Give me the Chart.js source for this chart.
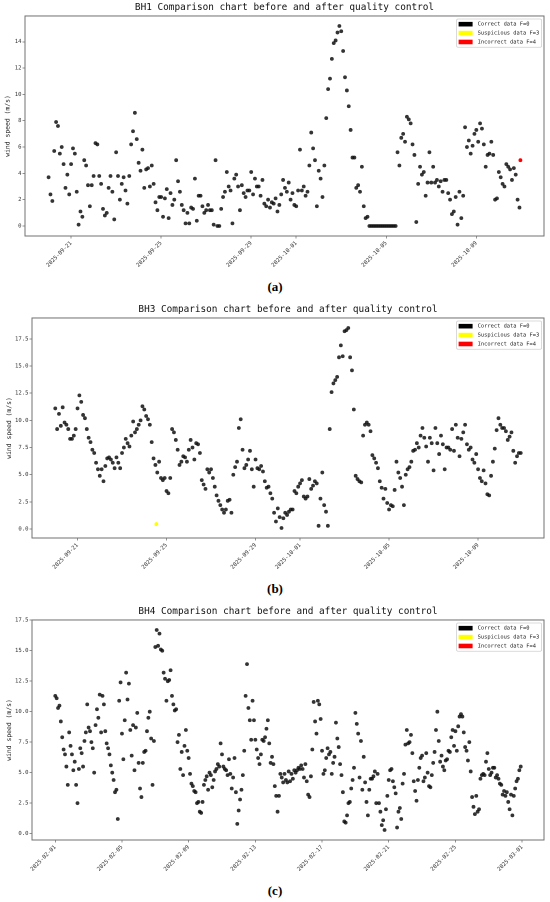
<!DOCTYPE html>
<html><head><meta charset="utf-8">
<script src="https://cdn.jsdelivr.net/npm/chart.js@4.4.1/dist/chart.umd.min.js"></script>
<style>
html,body{margin:0;padding:0;background:#fff;}
body{width:550px;height:902px;position:relative;overflow:hidden;}
canvas{position:absolute;left:0;}
.cap{position:absolute;left:0;width:550px;text-align:center;font-family:"Liberation Serif","DejaVu Serif",serif;font-weight:bold;font-size:13px;line-height:14px;color:#000;}
</style></head><body>
<canvas id="cA" width="550" height="275" style="top:0px"></canvas>
<div class="cap" style="top:280px">(a)</div>
<canvas id="cB" width="550" height="275" style="top:302px"></canvas>
<div class="cap" style="top:582px">(b)</div>
<canvas id="cC" width="550" height="275" style="top:604px"></canvas>
<div class="cap" style="top:884px">(c)</div>
<script>
// ---------------- data ----------------
const seriesLabels = ['Correct data F=0', 'Suspicious data F=3', 'Incorrect data F=4'];
const yLabel = 'wind speed (m/s)';

// BH1: 2025-09-20 00:00 onward, one value every 2 hours
const bh1Title = 'BH1 Comparison chart before and after quality control';
const bh1Start = '2025-09-20';
const bh1StepHours = 2;
const bh1Speed = [
 3.7,2.4,1.9,5.7,7.9,7.6,5.5,6.0,4.7,2.9,3.9,2.4,
 4.7,5.9,5.5,2.6,0.1,1.1,0.7,5.0,4.6,3.1,1.5,3.1,
 3.8,6.3,6.2,3.8,3.2,1.3,0.8,1.0,2.9,3.8,2.6,0.5,
 5.6,3.8,2.0,3.2,3.7,2.7,1.7,3.8,6.2,7.2,8.6,6.6,
 4.8,4.2,5.8,2.9,4.3,4.4,3.0,4.6,3.2,1.8,1.2,2.2,
 2.2,0.7,2.1,2.8,0.6,2.5,1.6,2.0,5.0,3.4,2.6,1.6,
 1.2,0.2,1.0,0.2,1.4,1.3,3.6,0.4,2.3,2.3,1.5,1.0,
 1.2,1.6,1.2,1.2,0.1,5.0,0.0,0.0,1.3,2.2,2.6,4.1,
 3.0,2.7,0.2,3.6,3.9,3.0,1.2,3.1,2.5,2.2,2.7,2.7,
 4.1,2.4,3.6,3.0,3.0,2.3,3.5,1.7,1.5,2.0,1.4,1.8,
 1.7,2.1,1.1,1.6,2.4,3.5,2.9,2.6,3.3,2.0,2.5,1.6,
 1.5,2.7,5.8,2.7,3.0,2.3,2.6,4.6,7.1,5.9,5.0,1.5,
 4.2,3.6,2.2,4.6,8.2,10.4,11.2,12.7,13.9,14.1,14.7,15.2,
 14.8,13.3,11.3,10.3,9.1,7.3,5.2,5.2,2.9,3.1,2.6,4.5,
 1.5,0.6,0.7,0,0,0,0,0,0,0,0,0,
 0,0,0,0,0,0,5.6,4.6,6.7,7.0,6.4,8.3,
 8.1,7.8,6.2,5.4,0.3,3.2,4.5,3.9,4.1,2.3,3.3,5.6,
 3.3,4.5,3.3,3.5,3.0,3.4,2.6,3.5,3.5,2.5,2.0,0.9,
 1.1,2.2,0.1,2.6,0.6,2.3,7.5,6.0,6.5,5.5,6.1,7.0,
 7.3,6.4,7.8,7.4,6.2,4.5,5.4,5.5,6.4,5.4,2.0,2.1,
 4.1,3.7,3.2,3.0,4.7,4.5,4.3,3.5,4.4,3.9,2.0,1.4
];
const bh1SuspectHours = [];
const bh1SuspectValues = [];
const bh1IncorrectHours = [503];
const bh1IncorrectValues = [5.0];
const bh1XTicks = ['2025-09-21','2025-09-25','2025-09-29','2025-10-01','2025-10-05','2025-10-09'];
const bh1YTicks = [0,2,4,6,8,10,12,14];

// BH3: 2025-09-20 00:00 onward, one value every 2 hours
const bh3Title = 'BH3 Comparison chart before and after quality control';
const bh3Start = '2025-09-20';
const bh3StepHours = 2;
const bh3Speed = [
 11.1,9.2,10.6,9.5,11.2,9.8,9.6,9.2,8.3,8.3,8.6,9.2,
 11.1,12.3,11.7,10.5,10.2,9.2,8.4,8.0,7.3,7.0,6.1,5.5,
 4.9,5.5,4.4,5.8,6.5,6.6,6.4,6.1,5.6,6.6,6.1,5.6,
 7.0,7.5,8.3,7.9,7.6,8.6,9.9,8.9,9.2,9.6,10.0,11.3,
 11.0,10.4,10.1,9.6,8.0,6.5,5.9,5.2,6.2,4.7,4.5,4.7,
 3.5,3.3,4.7,9.2,8.9,8.2,7.3,5.9,6.2,6.7,6.6,6.2,
 7.3,8.2,7.5,6.4,7.9,7.8,7.0,4.5,4.1,3.7,5.5,5.2,
 5.5,4.7,3.9,3.1,2.6,2.2,1.8,1.5,1.8,2.6,2.7,1.5,
 5.0,5.7,6.2,9.3,10.1,7.3,5.6,5.9,6.4,7.2,5.5,3.9,
 6.4,5.6,5.5,5.8,5.3,4.4,3.8,3.9,3.3,2.8,1.5,0.7,
 1.9,1.1,0.1,1.0,1.5,1.3,1.6,1.8,1.8,3.5,3.3,3.9,
 4.2,4.5,3.0,2.8,3.0,4.6,3.7,4.0,4.4,4.2,0.3,2.8,
 5.2,2.2,1.6,0.3,9.2,12.6,13.4,13.7,14.0,15.8,16.9,15.9,
 18.2,18.3,18.5,15.8,14.6,11.0,4.9,4.6,4.4,4.3,8.6,9.6,
 9.8,9.6,9.0,6.8,6.5,6.1,5.6,4.4,3.8,2.8,3.7,2.4,
 1.8,2.2,2.1,3.6,6.2,5.2,4.7,3.9,2.2,5.0,5.5,5.7,
 6.2,7.2,7.3,7.9,7.5,8.6,9.3,8.4,7.6,6.2,8.4,7.9,
 5.4,9.3,7.9,6.9,8.6,7.8,5.5,7.5,7.5,7.3,9.2,7.2,
 9.6,8.4,6.7,8.3,8.9,9.6,7.8,7.3,7.5,6.4,6.1,6.9,
 5.5,4.7,4.4,5.4,4.2,3.2,3.1,4.9,6.2,7.4,9.1,10.2,
 9.6,9.3,9.3,9.0,8.2,8.5,8.9,7.2,6.1,6.7,7.0,7.0
];
const bh3SuspectHours = [109];
const bh3SuspectValues = [0.46];
const bh3IncorrectHours = [];
const bh3IncorrectValues = [];
const bh3XTicks = ['2025-09-21','2025-09-25','2025-09-29','2025-10-01','2025-10-05','2025-10-09'];
const bh3YTicks = [0,2.5,5,7.5,10,12.5,15,17.5];

// BH4: 2025-02-01 00:00 onward, one value every 2 hours
const bh4Title = 'BH4 Comparison chart before and after quality control';
const bh4Start = '2025-02-01';
const bh4StepHours = 2;
const bh4Speed = [
 11.3,11.1,10.3,10.5,9.2,7.9,6.9,6.5,5.5,4.0,8.3,7.2,
 6.5,5.2,5.9,4.0,2.5,5.3,7.0,6.6,5.5,7.6,8.3,10.6,
 8.7,8.4,7.5,7.0,5.0,8.9,10.2,9.5,11.4,8.3,11.3,10.6,
 8.4,7.4,7.0,6.5,5.6,5.0,4.4,3.4,3.6,1.2,10.9,12.4,
 8.2,6.1,9.3,13.2,11.0,12.3,8.5,6.4,8.9,5.2,8.7,9.9,
 5.8,3.7,3.0,5.8,6.7,6.8,8.4,9.5,10.0,7.8,4.0,7.6,
 15.3,16.7,15.4,16.4,15.1,15.0,13.2,12.7,10.9,12.5,12.6,13.4,
 11.3,10.6,10.1,10.2,7.5,8.1,5.3,6.7,4.8,7.2,8.5,6.8,
 6.2,4.9,4.1,3.9,3.5,3.4,2.5,2.6,1.8,1.7,2.6,4.0,
 4.4,4.7,3.6,5.0,4.8,3.8,4.4,5.1,5.3,5.7,5.5,7.4,
 6.5,5.5,5.3,5.2,4.8,6.1,4.9,3.7,4.6,6.2,3.4,0.8,
 1.9,2.8,3.6,4.8,6.8,11.3,13.9,10.3,9.3,7.7,10.9,9.3,
 7.7,6.9,6.2,5.7,6.5,7.7,7.6,7.9,8.6,9.3,7.4,5.8,
 6.3,5.7,3.9,3.1,1.8,3.1,4.9,4.6,4.2,4.9,4.4,4.2,
 5.1,4.3,4.9,4.5,5.2,5.0,5.2,5.4,5.3,5.6,5.3,4.6,
 5.7,4.3,3.2,3.0,4.7,6.9,10.8,9.2,8.2,10.9,10.6,9.4,
 6.8,4.9,5.2,6.2,7.0,6.5,6.7,4.9,5.8,6.3,9.1,7.8,
 7.1,5.7,4.8,3.4,1.0,0.9,1.5,2.5,2.6,3.7,4.4,5.4,
 9.9,9.0,8.2,4.6,7.6,3.6,6.3,4.2,2.6,1.5,3.6,4.5,
 4.5,4.7,5.1,2.5,4.9,2.5,1.8,0.7,1.1,0.3,2.0,3.1,
 4.4,5.2,5.3,4.3,3.8,3.3,0.5,1.8,2.1,1.2,4.1,4.9,
 7.3,8.5,7.4,7.5,8.1,6.6,4.3,3.5,2.7,4.4,5.4,6.2,
 6.4,4.3,4.6,6.6,5.0,3.9,3.8,4.8,5.8,6.7,8.5,10.0,
 7.6,5.9,6.4,5.5,5.2,6.0,6.1,6.8,6.7,7.9,8.5,7.2,
 8.4,6.8,8.8,9.6,9.8,9.6,8.3,7.1,6.8,6.0,7.5,5.1,
 3.0,2.2,1.6,3.1,1.8,2.0,4.5,4.8,4.9,4.8,5.9,6.6,
 5.3,4.8,5.0,5.4,5.4,4.6,4.8,4.5,4.1,4.0,3.2,3.5,
 3.1,3.4,2.6,2.0,3.2,1.5,3.1,3.7,4.3,4.5,5.2,5.5
];
const bh4SuspectHours = [];
const bh4SuspectValues = [];
const bh4IncorrectHours = [];
const bh4IncorrectValues = [];
const bh4XTicks = ['2025-02-01','2025-02-05','2025-02-09','2025-02-13','2025-02-17','2025-02-21','2025-02-25','2025-03-01'];
const bh4YTicks = [0,2.5,5,7.5,10,12.5,15,17.5];

// ---------------- helpers ----------------
const MONO = '"DejaVu Sans Mono", "Liberation Mono", monospace';
function dayOffset(start, d) {
  return (Date.parse(d + 'T00:00:00Z') - Date.parse(start + 'T00:00:00Z')) / 86400000;
}
function seriesPoints(values, stepH) { return values.map((v, i) => ({x: i * stepH / 24, y: v})); }
function flagPoints(hours, values) { return hours.map((h, i) => ({x: h / 24, y: values[i]})); }
function padRange(arr) {
  const mn = Math.min(...arr), mx = Math.max(...arr), m = (mx - mn) * 0.05;
  return [mn - m, mx + m];
}

const framePlugin = {
  id: 'frame',
  afterDatasetsDraw(chart) {
    const {ctx, chartArea: a} = chart;
    ctx.save();
    ctx.strokeStyle = '#707070';
    ctx.lineWidth = 1;
    ctx.strokeRect(a.left, a.top, a.right - a.left, a.bottom - a.top);
    ctx.restore();
  }
};

const insideLegend = {
  id: 'insideLegend',
  afterDraw(chart) {
    const {ctx, chartArea: a} = chart;
    const w = 85, h = 28.3;
    const x0 = a.right - 2.4 - w, y0 = a.top + 3;
    ctx.save();
    ctx.fillStyle = 'rgba(255,255,255,0.85)';
    ctx.strokeStyle = '#cfcfcf';
    ctx.lineWidth = 0.8;
    ctx.beginPath();
    if (ctx.roundRect) ctx.roundRect(x0, y0, w, h, 1.5); else ctx.rect(x0, y0, w, h);
    ctx.fill(); ctx.stroke();
    chart.data.datasets.forEach((ds, i) => {
      const cy = y0 + 5.2 + i * 8.9;
      ctx.fillStyle = ds.swatch;
      ctx.fillRect(x0 + 2, cy - 2.3, 14, 4.6);
      ctx.fillStyle = '#222';
      ctx.font = '5.4px ' + MONO;
      ctx.textBaseline = 'middle';
      ctx.textAlign = 'left';
      ctx.fillText(ds.label, x0 + 21, cy);
    });
    ctx.restore();
  }
};

function makePanel(id, cfg) {
  const sets = [
    {label: seriesLabels[0], data: seriesPoints(cfg.values, cfg.step), backgroundColor: 'rgba(17,17,17,0.85)', swatch: '#000000', order: 2},
    {label: seriesLabels[1], data: flagPoints(cfg.suspH, cfg.suspV), backgroundColor: '#ffff00', swatch: '#ffff00', order: 1},
    {label: seriesLabels[2], data: flagPoints(cfg.badH, cfg.badV), backgroundColor: '#ff0000', swatch: '#ff0000', order: 0}
  ];
  const all = sets.flatMap(s => s.data);
  const [xmin, xmax] = padRange(all.map(p => p.x));
  const [ymin, ymax] = padRange(all.map(p => p.y));
  const xTickVals = cfg.xTicks.map(d => dayOffset(cfg.start, d));
  new Chart(document.getElementById(id), {
    type: 'scatter',
    data: {datasets: sets.map(s => Object.assign({pointRadius: 1.9, pointBorderWidth: 0, pointHoverRadius: 1.9}, s))},
    options: {
      responsive: false,
      animation: false,
      devicePixelRatio: 2,
      layout: {padding: {left: 0, right: 550 - cfg.right, top: 0, bottom: 0}},
      plugins: {
        legend: {display: false},
        tooltip: {enabled: false},
        title: {display: true, text: cfg.title, fullSize: false, color: '#111',
                font: {family: MONO, size: 9.4, weight: 'normal'}, padding: {top: 2, bottom: 2.7}}
      },
      scales: {
        x: {
          type: 'linear', min: xmin, max: xmax,
          afterBuildTicks: s => { s.ticks = xTickVals.map(v => ({value: v})); },
          afterFit: s => { s.height = 39; s.paddingLeft = 0; s.paddingRight = 0; },
          ticks: {callback: (v, i) => cfg.xTicks[i], minRotation: 45, maxRotation: 45, autoSkip: false,
                  font: {family: MONO, size: 5.6}, color: '#333', padding: 1.5},
          grid: {drawOnChartArea: false, drawTicks: true, tickLength: 2.5, color: '#777', lineWidth: 0.8},
          border: {display: false}
        },
        y: {
          type: 'linear', min: ymin, max: ymax,
          afterBuildTicks: s => { s.ticks = cfg.yTicks.map(v => ({value: v})); },
          afterFit: s => { s.width = cfg.left; s.paddingTop = 0; s.paddingBottom = 0; },
          ticks: {callback: v => cfg.yFmt(v), font: {family: MONO, size: 5.6}, color: '#333', padding: 1},
          grid: {drawOnChartArea: false, drawTicks: true, tickLength: 2.5, color: '#777', lineWidth: 0.8},
          border: {display: false},
          title: {display: true, text: yLabel, color: '#222', font: {family: MONO, size: 6.4}, padding: {top: cfg.ytPad, bottom: 0}}
        }
      }
    },
    plugins: [framePlugin, insideLegend]
  });
}

makePanel('cA', {title: bh1Title, start: bh1Start, step: bh1StepHours, values: bh1Speed,
  suspH: bh1SuspectHours, suspV: bh1SuspectValues, badH: bh1IncorrectHours, badV: bh1IncorrectValues,
  xTicks: bh1XTicks, yTicks: bh1YTicks, yFmt: v => String(v), left: 25, right: 544, ytPad: 3.8});
makePanel('cB', {title: bh3Title, start: bh3Start, step: bh3StepHours, values: bh3Speed,
  suspH: bh3SuspectHours, suspV: bh3SuspectValues, badH: bh3IncorrectHours, badV: bh3IncorrectValues,
  xTicks: bh3XTicks, yTicks: bh3YTicks, yFmt: v => v.toFixed(1), left: 32, right: 544, ytPad: 5.5});
makePanel('cC', {title: bh4Title, start: bh4Start, step: bh4StepHours, values: bh4Speed,
  suspH: bh4SuspectHours, suspV: bh4SuspectValues, badH: bh4IncorrectHours, badV: bh4IncorrectValues,
  xTicks: bh4XTicks, yTicks: bh4YTicks, yFmt: v => v.toFixed(1), left: 32, right: 544, ytPad: 5.5});
</script>
</body></html>
